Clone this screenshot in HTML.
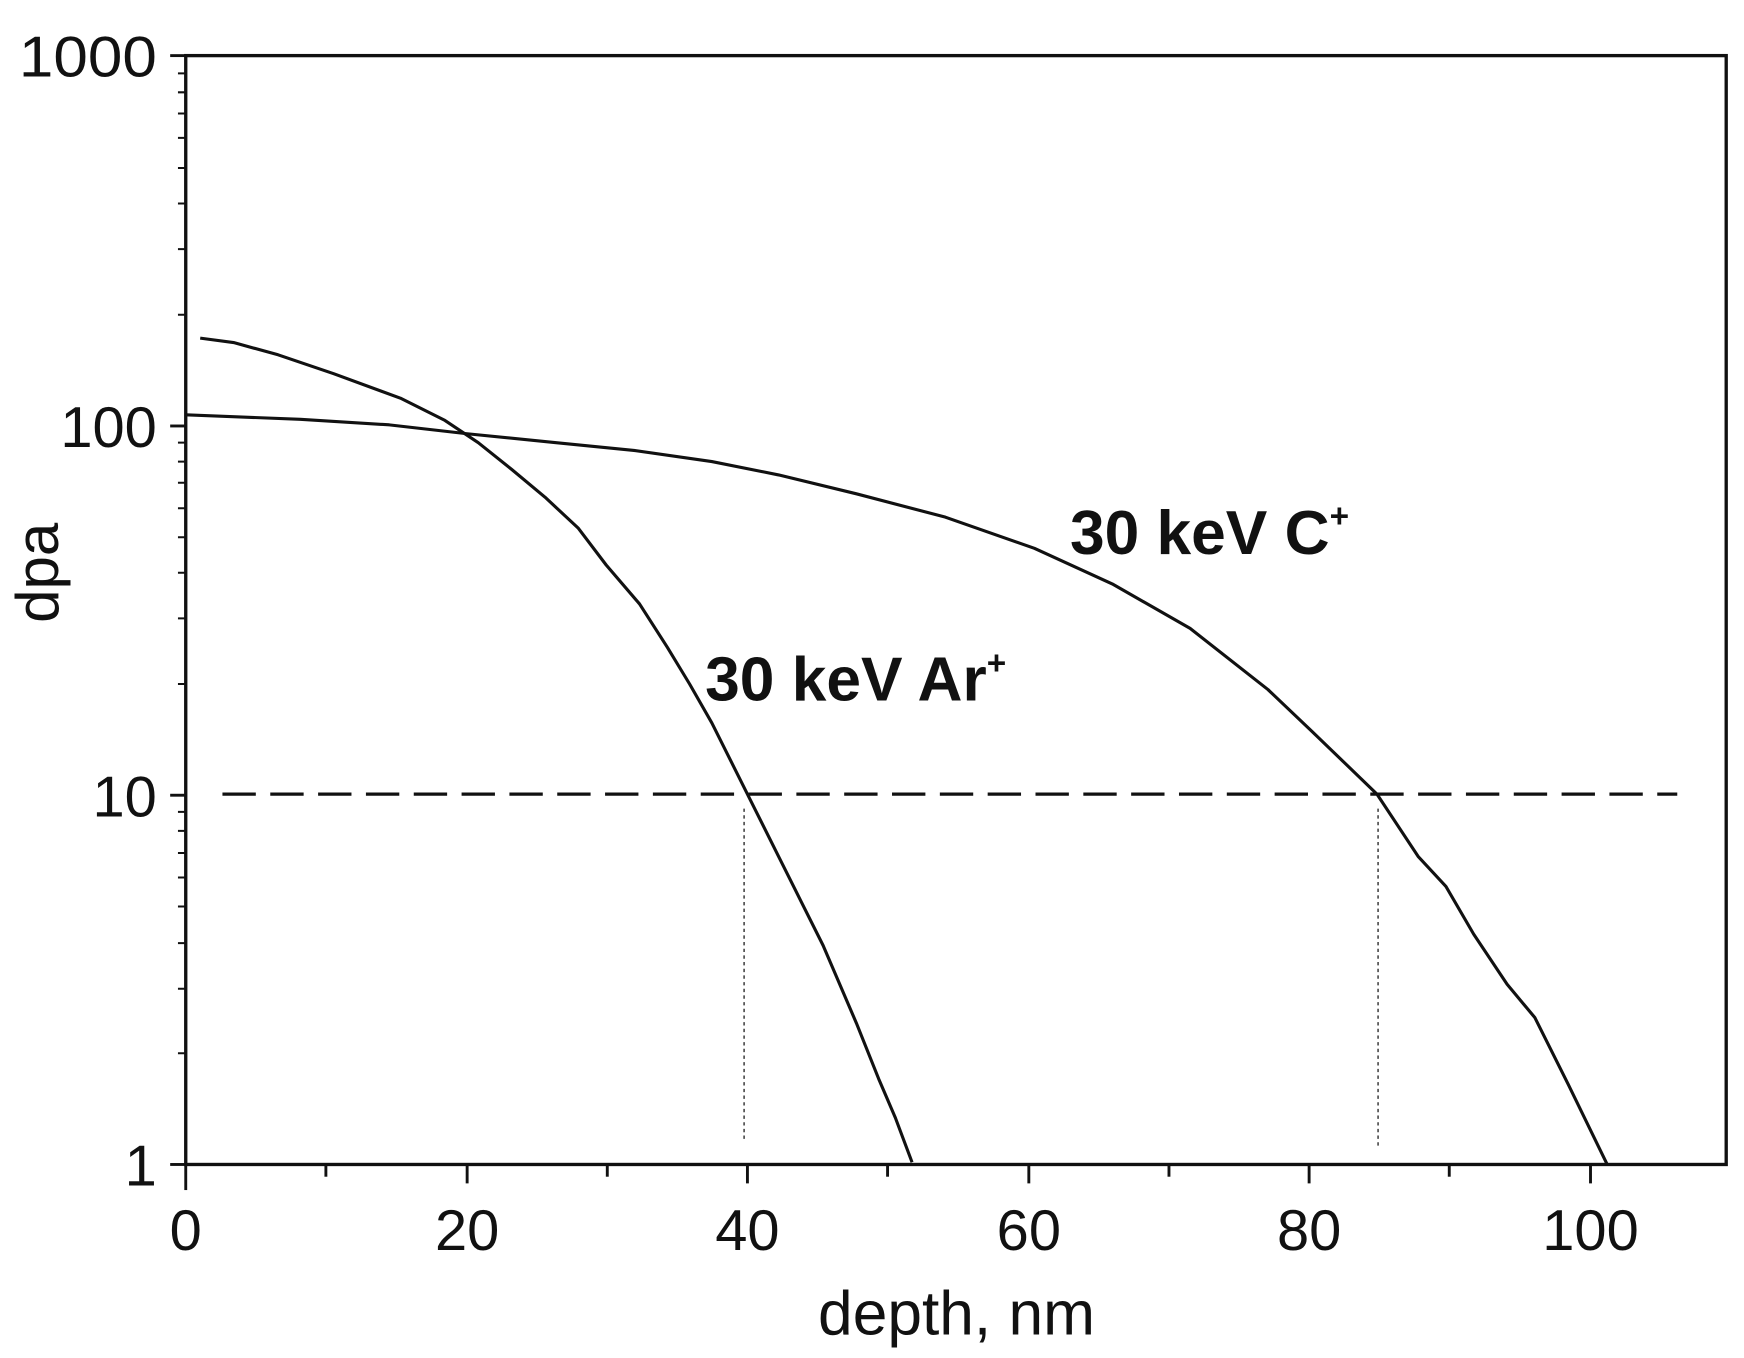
<!DOCTYPE html>
<html><head><style>body{margin:0;background:#fff}svg{display:block}</style></head><body>
<svg width="1744" height="1358" viewBox="0 0 1568 1221" preserveAspectRatio="none" xmlns="http://www.w3.org/2000/svg" font-family="Liberation Sans, sans-serif">
<rect width="1568" height="1221" fill="#fff"/>
<rect x="167" y="50" width="1385" height="997" stroke="#111" stroke-width="3" fill="none"/>
<g stroke="#111" stroke-width="2.6">
<line x1="153" y1="50" x2="167" y2="50"/><line x1="153" y1="383" x2="167" y2="383"/><line x1="153" y1="715" x2="167" y2="715"/><line x1="153" y1="1047" x2="167" y2="1047"/>
<line x1="167" y1="1047" x2="167" y2="1070"/><line x1="293" y1="1047" x2="293" y2="1058"/><line x1="420" y1="1047" x2="420" y2="1064"/><line x1="546" y1="1047" x2="546" y2="1058"/><line x1="672" y1="1047" x2="672" y2="1064"/><line x1="798" y1="1047" x2="798" y2="1058"/><line x1="925" y1="1047" x2="925" y2="1064"/><line x1="1051" y1="1047" x2="1051" y2="1058"/><line x1="1177" y1="1047" x2="1177" y2="1064"/><line x1="1303" y1="1047" x2="1303" y2="1058"/><line x1="1430" y1="1047" x2="1430" y2="1064"/>
</g>
<g stroke="#111" stroke-width="1.8">
<path d="M160 947H167M160 889H167M160 848H167M160 815H167M160 789H167M160 767H167M160 747H167M160 730H167
M160 615H167M160 556H167M160 515H167M160 483H167M160 457H167M160 434H167M160 415H167M160 398H167
M160 283H167M160 224H167M160 183H167M160 151H167M160 124H167M160 102H167M160 83H167M160 66H167"/>
</g>
<path d="M200 714H1508" stroke="#111" stroke-width="3" stroke-dasharray="30 13" fill="none"/>
<path d="M669 727V1027M1239 727V1030" stroke="#333" stroke-width="1.3" stroke-dasharray="3 3" fill="none"/>
<g fill="none" stroke="#111" stroke-width="2.8" stroke-linejoin="round">
<polyline points="180,304 210,308 250,319 300,336 360,358 400,378 430,398 460,422 490,447 520,475 545,508 575,543 600,582 620,615 640,650 660,690 680,730 700,770 720,810 740,850 770,920 790,970 805,1005 820,1045"/>
<polyline points="167,373 270,377 350,382 420,390 500,398 570,405 640,415 700,427 770,444 850,465 930,493 1000,525 1070,565 1140,620 1180,658 1238,714 1275,770 1300,797 1325,840 1355,885 1380,915 1410,975 1445,1047"/>
</g>
<g font-size="52" fill="#111" text-anchor="end">
<text x="141" y="69" textLength="124" lengthAdjust="spacingAndGlyphs">1000</text><text x="141" y="402">100</text><text x="141" y="734">10</text><text x="141" y="1066">1</text>
</g>
<g font-size="52" fill="#111" text-anchor="middle">
<text x="167" y="1124">0</text><text x="420" y="1124">20</text><text x="672" y="1124">40</text><text x="925" y="1124">60</text><text x="1177" y="1124">80</text><text x="1430" y="1124">100</text>
<text x="860" y="1200" font-size="56">depth, nm</text>
<text transform="translate(52,515) rotate(-90)" font-size="54">dpa</text>
</g>
<g font-size="56" font-weight="bold" fill="#111">
<text x="962" y="498">30 keV C<tspan font-size="30" dy="-24">+</tspan></text>
<text x="634" y="630">30 keV Ar<tspan font-size="30" dy="-24">+</tspan></text>
</g>
</svg>
</body></html>
